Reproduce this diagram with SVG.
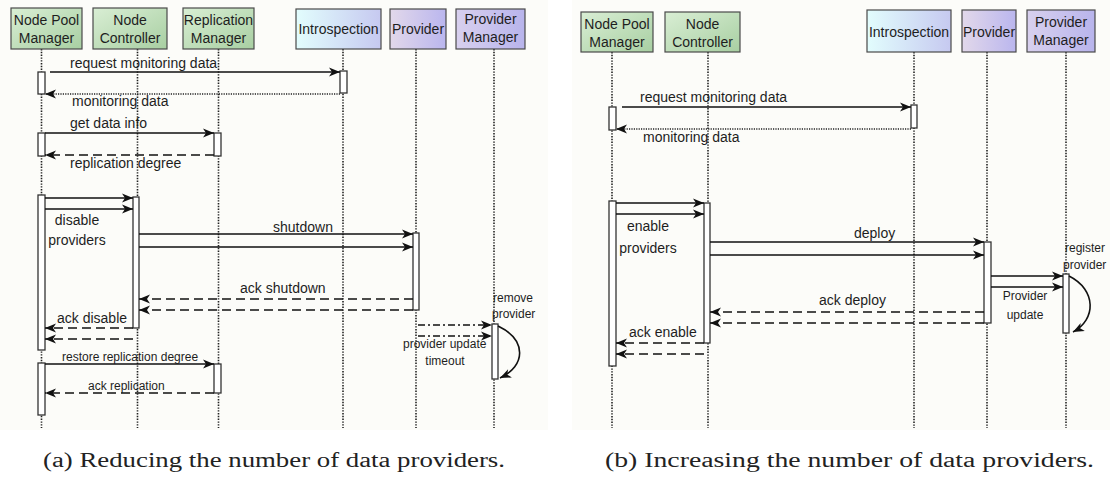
<svg xmlns="http://www.w3.org/2000/svg" width="1110" height="478" viewBox="0 0 1110 478">
<defs>
<linearGradient id="gGreen" x1="0" y1="0" x2="1" y2="1"><stop offset="0" stop-color="#d9eed4"/><stop offset="1" stop-color="#a8cfa2"/></linearGradient>
<linearGradient id="gIntro" x1="0" y1="0" x2="1" y2="0"><stop offset="0" stop-color="#e2fdfd"/><stop offset="1" stop-color="#c6c9f0"/></linearGradient>
<linearGradient id="gProv" x1="0" y1="0" x2="1" y2="0"><stop offset="0" stop-color="#e2d8ea"/><stop offset="1" stop-color="#bab6ee"/></linearGradient>
<linearGradient id="gPM" x1="0" y1="0" x2="1" y2="0"><stop offset="0" stop-color="#d8d0ee"/><stop offset="1" stop-color="#b8b4ec"/></linearGradient>
<marker id="ah" markerUnits="userSpaceOnUse" markerWidth="12" markerHeight="10" refX="11" refY="4.5" orient="auto" overflow="visible">
<path d="M0,0 L11,4.5 L0,9 L3,4.5 z" fill="#111"/>
</marker>
<style>
.hdr{stroke:#4a4a4a;stroke-width:1.2}
.ht{font-family:"Liberation Sans",Arial,sans-serif;font-size:14px;fill:#1e1e1e;text-anchor:middle}
.lbl{font-family:"Liberation Sans",Arial,sans-serif;font-size:14px;fill:#1e1e1e}
.sm{font-family:"Liberation Sans",Arial,sans-serif;font-size:12px;fill:#1e1e1e}
.life{stroke:#222;stroke-width:1.6;stroke-dasharray:1.4 1.4;fill:none}
.act{fill:#fff;stroke:#333;stroke-width:1.3}
.sol{stroke:#111;stroke-width:1.6;fill:none;marker-end:url(#ah)}
.dot{stroke:#222;stroke-width:1.4;stroke-dasharray:1.2 1.2;fill:none;marker-end:url(#ah)}
.dash{stroke:#111;stroke-width:1.6;stroke-dasharray:9 5;fill:none;marker-end:url(#ah)}
.dd{stroke:#111;stroke-width:1.4;stroke-dasharray:7 3 2 3;fill:none;marker-end:url(#ah)}
.cap{font-family:"Liberation Serif","Times New Roman",serif;font-size:20px;fill:#222}
</style>
</defs>
<rect x="0" y="0" width="1110" height="478" fill="#ffffff"/>
<rect x="0" y="0" width="548" height="430" fill="#fcfcf9"/>
<rect x="572" y="0" width="538" height="430" fill="#fcfcf9"/>

<!-- LEFT DIAGRAM -->
<g id="a-npm">
<line class="life" x1="41.5" y1="49" x2="41.5" y2="428"/>
<rect class="hdr" x="11" y="8" width="71" height="41" fill="url(#gGreen)"/>
<text class="ht" x="46.5" y="25">Node Pool</text><text class="ht" x="46.5" y="43">Manager</text>
</g>
<g id="a-nc">
<line class="life" x1="137.5" y1="49" x2="137.5" y2="428"/>
<rect class="hdr" x="93" y="8" width="74" height="41" fill="url(#gGreen)"/>
<text class="ht" x="130" y="25">Node</text><text class="ht" x="130" y="43">Controller</text>
</g>
<g id="a-rm">
<line class="life" x1="218.5" y1="49" x2="218.5" y2="428"/>
<rect class="hdr" x="183" y="8" width="71" height="41" fill="url(#gGreen)"/>
<text class="ht" x="218.5" y="25">Replication</text><text class="ht" x="218.5" y="43">Manager</text>
</g>
<g id="a-intro">
<line class="life" x1="343" y1="49" x2="343" y2="428"/>
<rect class="hdr" x="296" y="9" width="85" height="40" fill="url(#gIntro)"/>
<text class="ht" x="338.5" y="34">Introspection</text>
</g>
<g id="a-prov">
<line class="life" x1="416" y1="49" x2="416" y2="428"/>
<rect class="hdr" x="390" y="9" width="56" height="40" fill="url(#gProv)"/>
<text class="ht" x="418" y="34">Provider</text>
</g>
<g id="a-pm">
<line class="life" x1="494" y1="49" x2="494" y2="428"/>
<rect class="hdr" x="456" y="9" width="69" height="40" fill="url(#gPM)"/>
<text class="ht" x="490.5" y="24">Provider</text><text class="ht" x="490.5" y="42">Manager</text>
</g>
<g id="a-activations">
<rect class="act" x="38" y="72" width="7" height="22"/>
<rect class="act" x="340" y="71" width="7" height="22"/>
<rect class="act" x="38" y="133" width="7" height="23"/>
<rect class="act" x="214" y="133" width="7" height="23"/>
<rect class="act" x="38" y="195" width="7" height="155"/>
<rect class="act" x="133" y="197" width="6" height="131"/>
<rect class="act" x="413" y="233" width="6" height="77"/>
<rect class="act" x="492" y="324" width="6" height="55"/>
<rect class="act" x="38" y="363" width="7" height="52"/>
<rect class="act" x="214" y="364" width="7" height="29"/>
</g>
<g id="a-connectors">
<line class="sol" x1="50" y1="72" x2="340" y2="72"/>
<line class="dot" x1="340" y1="94" x2="45" y2="94"/>
<line class="sol" x1="45" y1="133" x2="214" y2="133"/>
<line class="dash" x1="214" y1="155" x2="45" y2="155"/>
<line class="sol" x1="45" y1="198" x2="133" y2="198"/>
<line class="sol" x1="45" y1="209" x2="133" y2="209"/>
<line class="sol" x1="139" y1="234" x2="413" y2="234"/>
<line class="sol" x1="139" y1="247" x2="413" y2="247"/>
<line class="dash" x1="413" y1="299" x2="139" y2="299"/>
<line class="dash" x1="413" y1="310" x2="139" y2="310"/>
<line class="dash" x1="133" y1="328" x2="45" y2="328"/>
<line class="dash" x1="133" y1="339" x2="45" y2="339"/>
<line class="dd" x1="418" y1="325" x2="492" y2="325"/>
<line class="dd" x1="418" y1="336" x2="492" y2="336"/>
<path class="sol" d="M498,326 C527,340 526,366 500,378"/>
<line class="sol" x1="45" y1="364" x2="214" y2="364"/>
<line class="dash" x1="214" y1="393" x2="45" y2="393"/>
</g>
<g id="a-labels">
<text class="lbl" x="70" y="68">request monitoring data</text>
<text class="lbl" x="72" y="106">monitoring data</text>
<text class="lbl" x="70" y="128">get data info</text>
<text class="lbl" x="70" y="168">replication degree</text>
<text class="lbl" x="77" y="225" text-anchor="middle">disable</text>
<text class="lbl" x="77" y="245" text-anchor="middle">providers</text>
<text class="lbl" x="273" y="232">shutdown</text>
<text class="lbl" x="240" y="293">ack shutdown</text>
<text class="lbl" x="57" y="323">ack disable</text>
<text class="sm" x="493" y="302">remove</text>
<text class="sm" x="492" y="318">provider</text>
<text class="sm" x="403" y="348">provider update</text>
<text class="sm" x="445" y="365" text-anchor="middle">timeout</text>
<text class="sm" x="62" y="361">restore replication degree</text>
<text class="sm" x="88" y="390">ack replication</text>
</g>

<!-- RIGHT DIAGRAM -->
<g id="b-npm">
<line class="life" x1="612" y1="52" x2="612" y2="428"/>
<rect class="hdr" x="581" y="12" width="72" height="40" fill="url(#gGreen)"/>
<text class="ht" x="617" y="29">Node Pool</text><text class="ht" x="617" y="47">Manager</text>
</g>
<g id="b-nc">
<line class="life" x1="708" y1="52" x2="708" y2="428"/>
<rect class="hdr" x="665" y="12" width="75" height="40" fill="url(#gGreen)"/>
<text class="ht" x="702.5" y="29">Node</text><text class="ht" x="702.5" y="47">Controller</text>
</g>
<g id="b-intro">
<line class="life" x1="914" y1="52" x2="914" y2="428"/>
<rect class="hdr" x="867" y="10" width="84" height="42" fill="url(#gIntro)"/>
<text class="ht" x="909" y="37">Introspection</text>
</g>
<g id="b-prov">
<line class="life" x1="987" y1="52" x2="987" y2="428"/>
<rect class="hdr" x="962" y="10" width="54" height="42" fill="url(#gProv)"/>
<text class="ht" x="989" y="37">Provider</text>
</g>
<g id="b-pm">
<line class="life" x1="1066" y1="52" x2="1066" y2="428"/>
<rect class="hdr" x="1027" y="10" width="68" height="42" fill="url(#gPM)"/>
<text class="ht" x="1061" y="27">Provider</text><text class="ht" x="1061" y="45">Manager</text>
</g>
<g id="b-activations">
<rect class="act" x="609" y="107" width="7" height="23"/>
<rect class="act" x="911" y="105" width="6" height="23"/>
<rect class="act" x="609" y="201" width="7" height="165"/>
<rect class="act" x="704" y="203" width="6" height="140"/>
<rect class="act" x="984" y="242" width="7" height="81"/>
<rect class="act" x="1063" y="274" width="6" height="59"/>
</g>
<g id="b-connectors">
<line class="sol" x1="622" y1="107" x2="911" y2="107"/>
<line class="dot" x1="911" y1="129" x2="616" y2="129"/>
<line class="sol" x1="616" y1="203" x2="704" y2="203"/>
<line class="sol" x1="616" y1="214" x2="704" y2="214"/>
<line class="sol" x1="710" y1="242" x2="984" y2="242"/>
<line class="sol" x1="710" y1="255" x2="984" y2="255"/>
<line class="sol" x1="991" y1="276" x2="1063" y2="276"/>
<line class="sol" x1="991" y1="287" x2="1063" y2="287"/>
<path class="sol" d="M1069,276 C1097,290 1096,320 1073,332"/>
<line class="dash" x1="984" y1="312" x2="710" y2="312"/>
<line class="dash" x1="984" y1="323" x2="710" y2="323"/>
<line class="dash" x1="704" y1="343" x2="616" y2="343"/>
<line class="dash" x1="704" y1="354" x2="616" y2="354"/>
</g>
<g id="b-labels">
<text class="lbl" x="640" y="102">request monitoring data</text>
<text class="lbl" x="643" y="142">monitoring data</text>
<text class="lbl" x="648" y="231" text-anchor="middle">enable</text>
<text class="lbl" x="648" y="253" text-anchor="middle">providers</text>
<text class="lbl" x="854" y="238">deploy</text>
<text class="lbl" x="819" y="305">ack deploy</text>
<text class="lbl" x="629" y="337">ack enable</text>
<text class="sm" x="1065" y="252">register</text>
<text class="sm" x="1063" y="269">provider</text>
<text class="sm" x="1025" y="300" text-anchor="middle">Provider</text>
<text class="sm" x="1025" y="319" text-anchor="middle">update</text>
</g>

<g id="captions">
<text class="cap" x="43" y="467" textLength="462" lengthAdjust="spacingAndGlyphs">(a)  Reducing the number of data providers.</text>
<text class="cap" x="605" y="467" textLength="489" lengthAdjust="spacingAndGlyphs">(b)  Increasing the number of data providers.</text>
</g>
</svg>
